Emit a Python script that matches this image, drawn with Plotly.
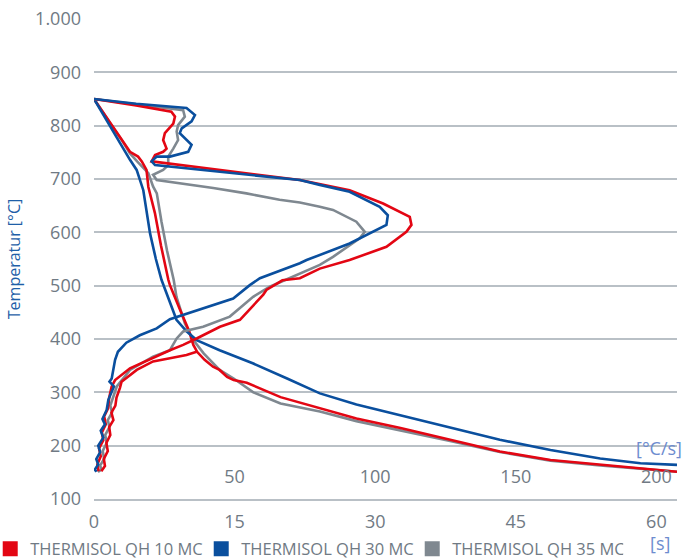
import plotly.graph_objects as go

# ---------------- data ----------------
# Temperature vs time [s]
red_time_t = [0, 1, 2, 3, 3.84, 4.7, 5.1, 5.6, 5.8, 6.5, 7.15, 7.93, 8.1, 9.2, 10.1, 10.6, 11.0, 11.8,
              12.7, 13.4, 14.2, 14.9, 16.3, 19.9, 24.1, 28, 32.7, 38, 43.3, 48.7, 54, 58.3, 62.2]
red_time_T = [850, 824, 798, 773, 751, 742, 733, 717, 685, 636, 575, 511, 501, 454, 417, 389, 376, 361,
              348, 342, 329, 323, 318, 291, 270, 251, 233, 211, 189, 173, 164, 158, 151]

blue_time_t = [0, 1, 2, 3, 3.84, 4.55, 5.26, 5.98, 6.6, 7.2, 8.1, 8.8, 9.9, 10.95, 13.4, 17, 20.6,
               24.1, 28, 32.7, 38, 43.3, 48.7, 54, 58.3, 62.2]
blue_time_T = [850, 820, 791, 762, 736, 717, 679, 598, 550, 511, 467, 436, 414, 398, 379, 354, 326,
               298, 277, 257, 233, 211, 192, 176, 167, 164]

gray_time_t = [0, 1, 2, 3, 3.84, 4.6, 5.26, 5.8, 6.3, 6.7, 7.2, 7.8, 8.5, 8.8, 9.7, 10.6, 11.7, 13.4,
               14.9, 17, 19.9, 24.1, 28, 32.7, 38, 43.3, 48.7, 54, 58.3, 62.2]
gray_time_T = [850, 823, 797, 772, 748, 733, 720, 711, 686, 673, 620, 565, 511, 479, 429, 398, 373, 342,
               326, 300, 279, 264, 246, 229, 209, 188, 172, 163, 157, 151]

# Temperature vs cooling rate [°C/s]
red_rate_r = [0, 15, 27.5, 28.8, 28.2, 25.2, 24.6, 25.8, 24.6, 21.7, 20.5, 41, 60, 73.2, 90.9, 102.8,
              112.3, 112.9, 111.1, 104, 90.9, 80.3, 73.2, 67, 61.3, 60.2, 51.9, 44.8, 36.5, 31.7, 27,
              20.5, 12.8, 7.5, 6.3, 5.4, 5.0, 3.6, 4.2, 2.8, 3.3, 1.8, 2.4, 1.2, 1.6]
red_rate_T = [850, 838, 826, 817, 804, 786, 773, 757, 751, 745, 733, 719, 707, 698, 679, 654,
              629, 614, 601, 573, 548, 532, 514, 510, 492, 483, 436, 423, 401, 389, 379,
              364, 345, 323, 311, 290, 270, 255, 240, 225, 210, 195, 180, 165, 152]
# second red branch (joins the time curve near 376 °C)
red_rate2_r = [36.5, 32.9, 27, 21, 15.2, 9.8, 9.2, 8.0, 7.6, 6.2, 6.9, 5.4, 5.8, 4.4, 4.9, 3.5, 3.9, 2.6]
red_rate2_T = [376, 370, 364, 358, 342, 320, 308, 290, 275, 262, 248, 235, 220, 205, 190, 175, 162, 152]

blue_rate_r = [0, 15, 32.9, 35.9, 34.7, 31.2, 30.5, 32.9, 34.7, 33.5, 27, 22.3, 20.5, 21.7, 41, 60,
               73.2, 80.3, 90.9, 101.6, 104.5, 104, 101, 90.9, 75.6, 73.2, 59, 55.4, 49.5, 38.8, 27,
               22.3, 16.3, 11.5, 8.5, 7.5, 6.3, 5.5, 7.1, 6.3, 5.1, 4.5, 3.0, 3.9, 2.4, 3.3, 1.5,
               2.2, 0.8, 1.5, 0.3, 0.9]
blue_rate_T = [850, 841, 833, 820, 808, 795, 786, 773, 764, 751, 742, 742, 733, 726, 716, 705,
               698, 689, 676, 648, 632, 614, 606, 579, 548, 542, 514, 501, 476, 457, 437,
               420, 407, 393, 376, 361, 326, 320, 311, 301, 286, 267, 250, 240, 228, 215, 200,
               188, 175, 165, 155, 151]

gray_rate_r = [0, 15, 31.7, 32.3, 29.9, 29.4, 29.9, 28.2, 26.4, 26.4, 24.6, 21, 22.3, 42.4, 54.2, 66,
               73.2, 80.3, 85, 93.3, 96.3, 94.5, 85, 80.3, 73.2, 62.5, 56.6, 48.3, 38.8, 31.7, 29.4,
               27, 21, 12.8, 8.1, 6.9, 5.8, 6.4, 4.9, 5.5, 4.0, 4.5, 3.1, 3.6, 2.2, 2.6, 1.4]
gray_rate_T = [850, 840, 829, 817, 801, 789, 773, 757, 742, 726, 717, 708, 698, 683, 673, 661,
               656, 648, 642, 620, 601, 589, 554, 539, 523, 498, 479, 442, 423, 414, 401,
               379, 367, 342, 311, 292, 275, 262, 248, 235, 220, 205, 190, 175, 163, 155, 151]

series_names = ["THERMISOL QH 10 MC", "THERMISOL QH 30 MC", "THERMISOL QH 35 MC"]
time_ticks = [0, 15, 30, 45, 60]
rate_ticks = [50, 100, 150, 200]
temp_ticks = [100, 200, 300, 400, 500, 600, 700, 800, 900, 1000]

# ---------------- style ----------------
RED = "#e30613"
BLUE = "#0a4f9e"
GRAY = "#7f8890"
GRID = "#b9c0c6"
TICK = "#707a84"
LW = 2.6
FONT = "Open Sans"

fig = go.Figure()

def line(x, y, color, xaxis):
    fig.add_trace(go.Scatter(x=x, y=y, mode="lines", xaxis=xaxis, yaxis="y",
                             line=dict(color=color, width=LW), showlegend=False,
                             hoverinfo="skip"))

# gray first, then red, then blue on top
line(gray_rate_r, gray_rate_T, GRAY, "x2")
line(gray_time_t, gray_time_T, GRAY, "x")
line(red_rate_r, red_rate_T, RED, "x2")
line(red_rate2_r, red_rate2_T, RED, "x2")
line(red_time_t, red_time_T, RED, "x")
line(blue_rate_r, blue_rate_T, BLUE, "x2")
line(blue_time_t, blue_time_T, BLUE, "x")

# legend entries (square markers)
for name, color in zip(series_names, [RED, BLUE, GRAY]):
    fig.add_trace(go.Scatter(x=[None], y=[None], mode="markers", name=name,
                             marker=dict(symbol="square", size=15, color=color),
                             showlegend=True))

t_max = 62.2
fig.update_layout(
    width=686, height=560,
    margin=dict(l=94, r=9, t=19, b=61, autoexpand=False),
    paper_bgcolor="white", plot_bgcolor="white",
    font=dict(family=FONT, color=TICK, size=18),
    separators=",.",
    xaxis=dict(range=[0, t_max], tickvals=time_ticks, showgrid=False, zeroline=False,
               showline=True, linecolor=GRID, linewidth=1.5, ticks="", automargin=False,
               ticklabelstandoff=6, tickfont=dict(size=18, color=TICK)),
    xaxis2=dict(range=[0, t_max * 200 / 60], tickvals=rate_ticks, overlaying="x",
                anchor="free", position=0.072, side="bottom", showgrid=False,
                zeroline=False, showline=False, ticks="", automargin=False,
                tickfont=dict(size=18, color=TICK)),
    yaxis=dict(range=[100, 1000], tickvals=temp_ticks, tickformat=",d",
               showgrid=True, gridcolor=GRID, gridwidth=1.5, zeroline=False,
               ticks="", ticklabelstandoff=12, automargin=False,
               tickfont=dict(size=18, color=TICK),
               title=dict(text="Temperatur [°C]", font=dict(size=16, color="#1f5fa8"),
                          standoff=10)),
    legend=dict(orientation="h", x=-0.178, xanchor="left", y=-0.104, yanchor="middle",
                font=dict(size=16.5, color=TICK), itemwidth=30, tracegroupgap=0,
                entrywidth=166, entrywidthmode="pixels",
                bgcolor="rgba(0,0,0,0)"),
    annotations=[
        dict(text="[°C/s]", xref="paper", yref="paper", x=1.012, y=0.106,
             xanchor="right", yanchor="middle", showarrow=False,
             font=dict(size=18, color="#6d8ccf")),
        dict(text="[s]", xref="paper", yref="paper", x=0.971, y=-0.092,
             xanchor="center", yanchor="middle", showarrow=False,
             font=dict(size=18, color="#6d8ccf")),
    ],
)

fig.write_html("out.html", config={"displayModeBar": False},
               post_script="document.body.style.margin='0px';document.body.style.overflow='hidden';")
